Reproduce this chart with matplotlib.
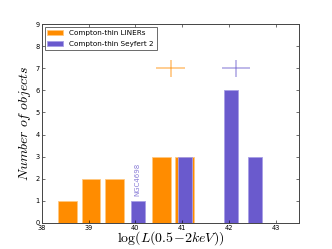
import numpy as np
import matplotlib
matplotlib.use('Agg')
import matplotlib.pyplot as plt

plt.rcParams['mathtext.fontset'] = 'cm'

# histogram counts (bin centres, width 0.5)
liner_centres = [38.55, 39.05, 39.55, 40.55, 41.05]
liner_counts = [1, 2, 2, 3, 3]
sy2_centres = [40.05, 41.05, 42.05, 42.55]
sy2_counts = [1, 3, 6, 3]

# mean luminosity markers
liner_mean = (40.75, 7.0)
sy2_mean = (42.14, 7.0)
mean_xerr = 0.3
mean_yerr = 0.4

orange = '#FF8C00'
purple = '#6A5ACD'

fig = plt.figure(figsize=(3.32, 2.49), dpi=100)
ax = fig.add_axes([0.1256, 0.106, 0.776, 0.796])

ax.bar(liner_centres, liner_counts, width=0.4, color=orange,
       edgecolor='#FFC880', linewidth=0.6, label='Compton-thin LINERs')
ax.bar(sy2_centres, sy2_counts, width=0.3, color=purple,
       edgecolor='#A79EE6', linewidth=0.6, label='Compton-thin Seyfert 2')

ax.errorbar(*liner_mean, xerr=mean_xerr, yerr=mean_yerr, color=orange,
            alpha=0.55, lw=1.1, capsize=0)
ax.errorbar(*sy2_mean, xerr=mean_xerr, yerr=mean_yerr, color=purple,
            alpha=0.55, lw=1.1, capsize=0)

ax.text(40.04, 1.2, 'NGC4698', rotation=90, color=purple, alpha=0.8,
        fontsize=5, ha='center', va='bottom')

ax.set_xlim(38, 43.5)
ax.set_ylim(0, 9)
ax.set_xticks(np.arange(38, 44))
ax.set_yticks(np.arange(0, 10))
ax.tick_params(direction='in', top=True, right=True, labelsize=4.8,
               length=2, width=0.4, pad=1.5)
for s in ax.spines.values():
    s.set_color('#444444')
    s.set_linewidth(0.7)

ax.set_xlabel(r'$\log(L(0.5\!-\!2keV))$', fontsize=10, labelpad=-1)
ax.set_ylabel(r'$Number\ of\ objects$', fontsize=10, labelpad=2)

leg = ax.legend(loc='upper left', fontsize=5.2, frameon=True, fancybox=False,
                borderaxespad=0.4, handlelength=2.2, borderpad=0.4,
                labelspacing=0.6)
leg.get_frame().set_edgecolor('#444444')
leg.get_frame().set_linewidth(0.7)

fig.savefig('out.png', dpi=100)
